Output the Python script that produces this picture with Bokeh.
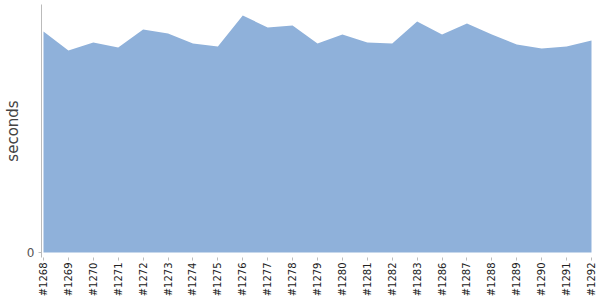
from bokeh.plotting import figure
from bokeh.models import Range1d, FixedTicker, ColumnDataSource
from bokeh.embed import file_html
from bokeh.resources import INLINE

builds = ["#1268", "#1269", "#1270", "#1271", "#1272", "#1273", "#1274", "#1275",
          "#1276", "#1277", "#1278", "#1279", "#1280", "#1281", "#1282", "#1283",
          "#1286", "#1287", "#1288", "#1289", "#1290", "#1291", "#1292"]
seconds = [221, 202, 210, 205, 223, 219, 209, 206, 237, 225, 227, 209,
           218, 210, 209, 231, 218, 229, 218, 208, 204, 206, 212]

xs = list(range(len(builds)))
src = ColumnDataSource(dict(x=xs, y=seconds, y0=[0] * len(xs)))

p = figure(width=600, height=300, output_backend="svg", toolbar_location=None,
           x_range=Range1d(-0.08, len(builds) - 1 + 0.04), y_range=Range1d(-5, 248),
           min_border_left=41, min_border_right=8, min_border_top=4, min_border_bottom=43)
p.outline_line_color = None
p.background_fill_color = "white"
p.border_fill_color = "white"
p.grid.visible = False

p.varea(x="x", y1="y0", y2="y", source=src, fill_color="#8FB1DA", fill_alpha=1.0)

# x axis
xa = p.xaxis[0]
xa.ticker = FixedTicker(ticks=xs)
xa.major_label_overrides = {i: b for i, b in enumerate(builds)}
xa.major_label_orientation = 1.5707963
xa.axis_line_color = None
xa.major_tick_in = 0
xa.major_tick_out = 3
xa.minor_tick_line_color = None
xa.major_tick_line_color = "#bbbbbb"
xa.major_label_standoff = 2
xa.major_label_text_font = "DejaVu Sans"
xa.major_label_text_font_size = "10px"
xa.major_label_text_color = "#222222"

# y axis
ya = p.yaxis[0]
ya.ticker = FixedTicker(ticks=[0])
ya.axis_line_color = "#bbbbbb"
ya.major_tick_line_color = "#bbbbbb"
ya.major_tick_in = 0
ya.major_tick_out = 3
ya.minor_tick_line_color = None
ya.major_label_standoff = 4
ya.major_label_text_font = "DejaVu Sans"
ya.major_label_text_font_size = "12px"
ya.major_label_text_color = "#555555"
ya.axis_label = "seconds"
ya.axis_label_text_font = "DejaVu Sans"
ya.axis_label_text_font_size = "15px"
ya.axis_label_text_font_style = "normal"
ya.axis_label_text_color = "#444444"
ya.axis_label_standoff = 2

open("out.html", "w").write(file_html(p, INLINE))
